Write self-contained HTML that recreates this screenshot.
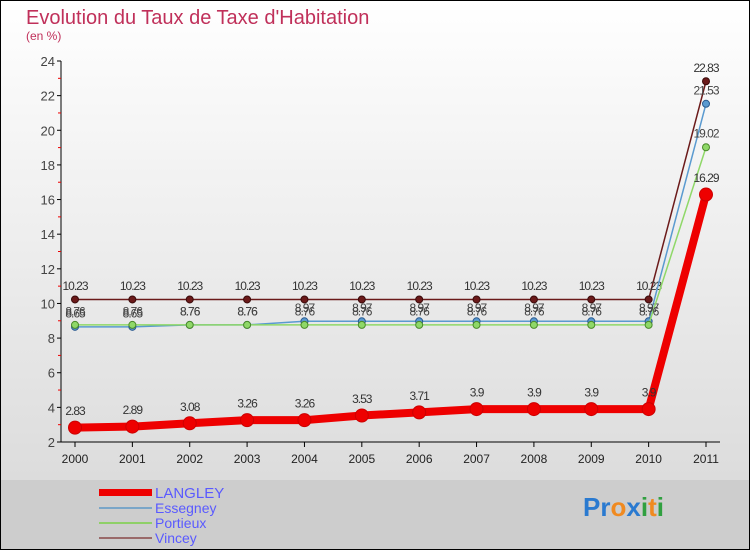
<!DOCTYPE html>
<html><head><meta charset="utf-8">
<style>
body{margin:0;width:750px;height:550px;overflow:hidden;font-family:"Liberation Sans",sans-serif}
svg text{font-family:"Liberation Sans",sans-serif}
</style></head>
<body>
<svg id="chart" width="750" height="550" xmlns="http://www.w3.org/2000/svg">
<defs>
<linearGradient id="bg" x1="0" y1="0" x2="0" y2="1">
<stop offset="0" stop-color="#ffffff"/><stop offset="1" stop-color="#dcdcdc"/>
</linearGradient>
</defs>
<rect x="0" y="0" width="750" height="480" fill="url(#bg)"/>
<rect x="0" y="480" width="750" height="70" fill="#cdcdcd"/>
<rect x="0.5" y="0.5" width="749" height="549" fill="none" stroke="#000"/>
<text x="26" y="24" font-size="20" fill="#c0305a">Evolution du Taux de Taxe d'Habitation</text>
<text x="26" y="40" font-size="12" fill="#c0305a">(en %)</text>
<g id="axes"></g>
<g id="series"></g>
<g id="legend">
<rect x="99" y="489" width="53" height="7" fill="#e00"/>
<line x1="99" y1="508" x2="152" y2="508" stroke="#7aa6c8" stroke-width="2"/>
<line x1="99" y1="523" x2="152" y2="523" stroke="#8fd068" stroke-width="2"/>
<line x1="99" y1="538" x2="152" y2="538" stroke="#9a6a6a" stroke-width="2"/>
<text x="155" y="498" font-size="15" fill="#5a5aff">LANGLEY</text>
<text x="155" y="513" font-size="14" fill="#5a5aff">Essegney</text>
<text x="155" y="528" font-size="14" fill="#5a5aff">Portieux</text>
<text x="155" y="543" font-size="14" fill="#5a5aff">Vincey</text>
</g>
<g font-size="26" font-weight="bold">
<text x="583" y="516"><tspan fill="#2a7ad0">Pr</tspan><tspan fill="#f08a20">o</tspan><tspan fill="#2a7ad0">x</tspan><tspan fill="#30a040">i</tspan><tspan fill="#f08a20">t</tspan><tspan fill="#30a040">i</tspan></text>
</g>
</svg>
<script>
const years = ["2000","2001","2002","2003","2004","2005","2006","2007","2008","2009","2010","2011"];
const yTicks = [2,4,6,8,10,12,14,16,18,20,22,24];
const langley = [2.83,2.89,3.08,3.26,3.26,3.53,3.71,3.9,3.9,3.9,3.9,16.29];
const essegney = [8.65,8.65,8.76,8.76,8.97,8.97,8.97,8.97,8.97,8.97,8.97,21.53];
const portieux = [8.76,8.76,8.76,8.76,8.76,8.76,8.76,8.76,8.76,8.76,8.76,19.02];
const vincey = [10.23,10.23,10.23,10.23,10.23,10.23,10.23,10.23,10.23,10.23,10.23,22.83];

const NS="http://www.w3.org/2000/svg";
const X=i=>75+i*(706-75)/(years.length-1);
const Y=v=>442-(v-2)*(442-61)/22;
function mk(tag,attrs,parent,txt){const e=document.createElementNS(NS,tag);for(const k in attrs)e.setAttribute(k,attrs[k]);if(txt!==undefined)e.textContent=txt;parent.appendChild(e);return e;}
const axes=document.getElementById('axes'), ser=document.getElementById('series');
const ya=mk('line',{x1:61,y1:61,x2:61,y2:442,stroke:'#000'},axes);


const xa=mk('line',{x1:61,y1:442,x2:720,y2:442,stroke:'#000'},axes);


yTicks.forEach((t,i)=>{
  mk('line',{x1:57,y1:Y(t),x2:61,y2:Y(t),stroke:'#000'},axes);
  if(i<yTicks.length-1) mk('line',{x1:58,y1:Y(t+1),x2:61,y2:Y(t+1),stroke:'#e00'},axes);
  const l=mk('text',{x:55,y:Y(t)+5,'font-size':13,fill:'#444','text-anchor':'end'},axes,String(t));
  
  
});
years.forEach((y,i)=>{
  mk('line',{x1:X(i),y1:442,x2:X(i),y2:447,stroke:'#000'},axes);
  const l=mk('text',{x:X(i),y:463,'font-size':12,fill:'#222','text-anchor':'middle'},axes,y);
  
  
});
function series(name,vals,color,w,r,dark,labColor){
  const g=mk('g',{},ser);
  
  
  mk('polyline',{points:vals.map((v,i)=>X(i)+','+Y(v)).join(' '),fill:'none',stroke:color,'stroke-width':w,'stroke-linejoin':'round'},g);
  vals.forEach((v,i)=>{
    const c=mk('circle',{cx:X(i),cy:Y(v),r:r,fill:color,stroke:dark,'stroke-width':1},g);
    
    
    const t=mk('text',{x:X(i),y:Y(v)-(r+6),'font-size':12,fill:labColor,'text-anchor':'middle','letter-spacing':'-1'},g,String(v));
    
    
  });
}
series('vincey',vincey,'#6b1a1a',1.5,3.5,'#3a0a0a','#333');
series('essegney',essegney,'#5a9ad0',1.5,3.5,'#2a5a90','#444');
series('portieux',portieux,'#8fd868',1.5,3.5,'#4a8a2a','#444');
series('langley',langley,'#ee0000',8,6.5,'#c00','#333');
</script>
</body></html>
